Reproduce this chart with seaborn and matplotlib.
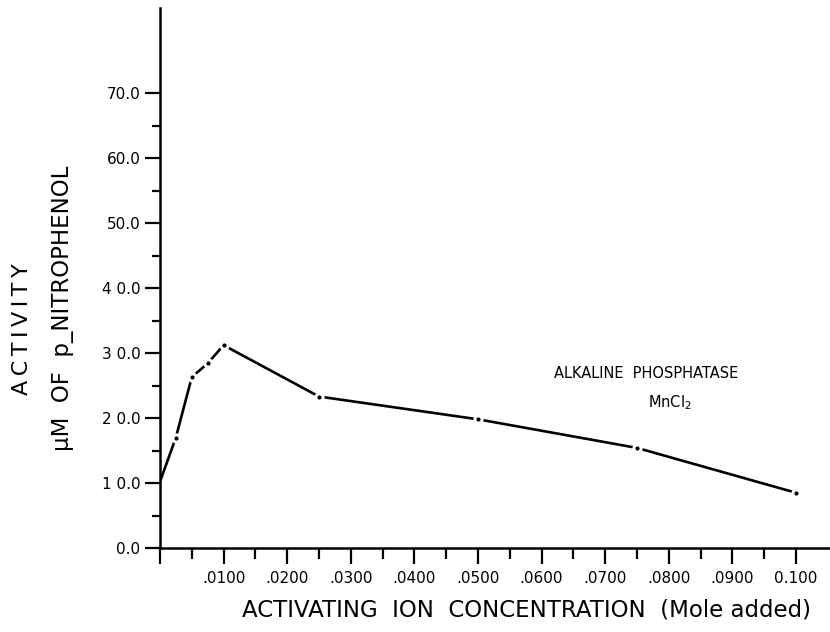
import matplotlib
matplotlib.use("Agg")
import matplotlib.pyplot as plt
import seaborn as sns
import numpy as np
import pandas as pd

# ---- data ----
concentration = [0.0, 0.0025, 0.005, 0.0075, 0.0100, 0.0250, 0.0500, 0.0750, 0.1000]
activity = [10.2, 17.0, 26.3, 28.4, 31.2, 23.3, 19.8, 15.4, 8.5]

x_major = [0.0, 0.01, 0.02, 0.03, 0.04, 0.05, 0.06, 0.07, 0.08, 0.09, 0.10]
x_labels = ["", ".0100", ".0200", ".0300", ".0400", ".0500", ".0600", ".0700", ".0800", ".0900", "0.100"]
x_minor = [0.005, 0.015, 0.025, 0.035, 0.045, 0.055, 0.065, 0.075, 0.085, 0.095]
y_major = [0, 10, 20, 30, 40, 50, 60, 70]
y_labels = ["0.0", "1 0.0", "2 0.0", "3 0.0", "4 0.0", "50.0", "60.0", "70.0"]
y_minor = [5, 15, 25, 35, 45, 55, 65]

df = pd.DataFrame({"conc": concentration, "act": activity})

sns.set_theme(style="white")
plt.rcParams["font.family"] = ["DejaVu Sans"]
plt.rcParams["text.color"] = "black"
plt.rcParams["xtick.color"] = "black"
plt.rcParams["ytick.color"] = "black"

fig = plt.figure(figsize=(8.3, 6.32), dpi=100)
ax = fig.add_axes([160 / 830, (632 - 548) / 632, (830 - 160) / 830, (548 - 8) / 632])

sns.lineplot(data=df, x="conc", y="act", ax=ax, color="black", linewidth=1.9,
             sort=True, estimator=None, zorder=2)
sns.scatterplot(data=df.iloc[1:], x="conc", y="act", ax=ax, color="white", s=55,
                linewidth=0, zorder=2.2)
sns.scatterplot(data=df.iloc[1:], x="conc", y="act", ax=ax, color="black", s=9,
                linewidth=0, zorder=2.4)

ax.set_xlim(0, 0.1 * 670 / 636)
ax.set_ylim(0, (548 - 8) / 6.5)

ax.set_xticks(x_major)
ax.set_xticklabels(x_labels)
ax.set_xticks(x_minor, minor=True)
ax.set_yticks(y_major)
ax.set_yticklabels(y_labels)
ax.set_yticks(y_minor, minor=True)

for side in ["top", "right"]:
    ax.spines[side].set_visible(False)
for side in ["left", "bottom"]:
    ax.spines[side].set_visible(True)
    ax.spines[side].set_color("black")
    ax.spines[side].set_linewidth(1.8)

ax.tick_params(axis="x", which="major", direction="out", length=11.5, width=1.6,
               color="black", labelcolor="black", labelsize=11, pad=5, bottom=True)
ax.tick_params(axis="x", which="minor", direction="out", length=8, width=1.6,
               color="black", bottom=True)
ax.tick_params(axis="y", which="major", direction="out", length=11, width=1.6,
               color="black", labelcolor="black", labelsize=11, pad=3, left=True)
ax.tick_params(axis="y", which="minor", direction="out", length=6, width=1.6,
               color="black", left=True)

ax.set_xlabel("")
ax.set_ylabel("")
ax.grid(False)

ax.text(0.0619, 26.8, "ALKALINE  PHOSPHATASE", fontsize=10.5, ha="left", va="center",
        color="black")
ax.text(0.0768, 22.3, r"MnCl$_2$", fontsize=10.5, ha="left", va="center", color="black")

fig.text(527 / 830, 1 - 610 / 632, "ACTIVATING  ION  CONCENTRATION  (Mole added)",
         fontsize=16.5, ha="center", va="center", color="black")
fig.text(22 / 830, 1 - 329 / 632, "A\u2009C\u2009T\u2009I\u2009V\u2009I\u2009T\u2009Y",
         fontsize=16, rotation=90, ha="center", va="center", color="black")
fig.text(62 / 830, 1 - 308 / 632, "\u03bcM  OF  p_NITROPHENOL", fontsize=16.5, rotation=90,
         ha="center", va="center", color="black")

fig.savefig("out.png", dpi=100, facecolor="white")
